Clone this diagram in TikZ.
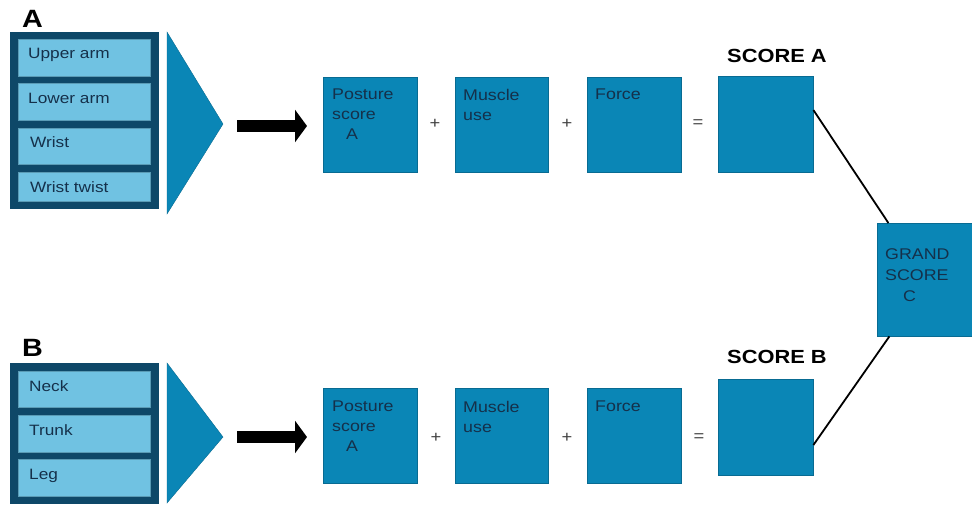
\documentclass[tikz,border=0pt]{standalone}
\usepackage{fontspec}
\setmainfont{Liberation Sans}[FakeStretch=1.15]
\usetikzlibrary{arrows.meta}
\definecolor{boxblue}{HTML}{0A86B6}
\definecolor{darknavy}{HTML}{0E4868}
\definecolor{lightblue}{HTML}{70C2E2}
\definecolor{txtnavy}{HTML}{15304A}
\begin{document}
\begin{tikzpicture}[x=1pt,y=-1pt,
  sq/.style={fill=boxblue, draw=boxblue!80!black, line width=0.4pt},
  outer/.style={fill=darknavy, draw=darknavy},
  inner/.style={fill=lightblue, draw=lightblue!80!black, line width=0.3pt},
  tri/.style={fill=boxblue, draw=boxblue!80!black, line width=0.4pt},
  lbl/.style={anchor=base west, inner sep=0pt, font=\fontsize{15}{18}\selectfont, text=txtnavy},
  boxtxt/.style={anchor=north west, inner sep=0pt, align=left, font=\fontsize{15.5}{20}\selectfont, text=txtnavy},
  big/.style={anchor=base west, inner sep=0pt, font=\fontsize{25}{28}\selectfont\bfseries},
  score/.style={anchor=base, inner sep=0pt, font=\fontsize{19}{22}\selectfont\bfseries},
  op/.style={inner sep=0pt, font=\fontsize{16}{18}\selectfont, text=black!75},
  bigarrow/.style={line width=12.5pt, -{Triangle[length=12pt,width=32pt]}},
  link/.style={line width=1.8pt, black}]
\useasboundingbox (0,0) rectangle (972,504);

% ---- Panel A ----
\node[big] (labA) at (22,27) {A};
\path[outer] (10,32) rectangle (158,208);
\path[inner] (18,39) rectangle (150,76);
\path[inner] (18,83) rectangle (150,120);
\path[inner] (18,128) rectangle (150,164);
\path[inner] (18,172) rectangle (150,201);
\node[lbl] (ua) at (28,58) {Upper arm};
\node[lbl] (la) at (28,103) {Lower arm};
\node[lbl] (wr) at (30,147) {Wrist};
\node[lbl] (wt) at (30,192) {Wrist twist};
\path[tri] (167,32) -- (223,124) -- (167,214) -- cycle;

% ---- Panel B ----
\node[big] (labB) at (22,356) {B};
\path[outer] (10,363) rectangle (158,503);
\path[inner] (18,371) rectangle (150,407);
\path[inner] (18,415) rectangle (150,452);
\path[inner] (18,459) rectangle (150,496);
\node[lbl] (nk) at (29,391) {Neck};
\node[lbl] (tr) at (29,435) {Trunk};
\node[lbl] (lg) at (29,479) {Leg};
\path[tri] (167,363) -- (223,437) -- (167,503) -- cycle;

% ---- Arrows ----
\coordinate (aA1) at (237,126);
\coordinate (aA2) at (307,126);
\coordinate (aB1) at (237,437);
\coordinate (aB2) at (307,437);
\draw[bigarrow] (aA1) -- (aA2);
\draw[bigarrow] (aB1) -- (aB2);

% ---- Row A ----
\node[sq, anchor=north west, minimum width=94pt, minimum height=95pt, inner sep=0pt] (pA) at (323,77) {};
\node[sq, anchor=north west, minimum width=93pt, minimum height=95pt, inner sep=0pt] (mA) at (455,77) {};
\node[sq, anchor=north west, minimum width=94pt, minimum height=95pt, inner sep=0pt] (fA) at (587,77) {};
\node[sq, anchor=north west, minimum width=95pt, minimum height=96pt, inner sep=0pt] (sA) at (718,76) {};
\node[boxtxt] (pAt) at (332,89) {Posture\\score\\\hspace*{14pt}A};
\node[boxtxt] (mAt) at (463,89) {Muscle\\use};
\node[boxtxt] (fAt) at (595,89) {Force};
\node[op] (p1A) at (435,124) {+};
\node[op] (p2A) at (567,124) {+};
\node[op] (eqA) at (698,124) {=};
\node[score] (scA) at (777,62) {SCORE A};

% ---- Row B ----
\node[sq, anchor=north west, minimum width=94pt, minimum height=95pt, inner sep=0pt] (pB) at (323,388) {};
\node[sq, anchor=north west, minimum width=93pt, minimum height=95pt, inner sep=0pt] (mB) at (455,388) {};
\node[sq, anchor=north west, minimum width=94pt, minimum height=95pt, inner sep=0pt] (fB) at (587,388) {};
\node[sq, anchor=north west, minimum width=95pt, minimum height=96pt, inner sep=0pt] (sB) at (718,379) {};
\node[boxtxt] (pBt) at (332,401) {Posture\\score\\\hspace*{14pt}A};
\node[boxtxt] (mBt) at (463,401) {Muscle\\use};
\node[boxtxt] (fBt) at (595,401) {Force};
\node[op] (p1B) at (436,438) {+};
\node[op] (p2B) at (567,438) {+};
\node[op] (eqB) at (699,438) {=};
\node[score] (scB) at (777,363) {SCORE B};

% ---- Grand score ----
\node[sq, anchor=north west, minimum width=95pt, minimum height=113pt, inner sep=0pt] (gC) at (877,223) {};
\node[boxtxt, font=\fontsize{15.5}{21}\selectfont] (gCt) at (885,248) {GRAND\\SCORE\\\hspace*{18pt}C};

% ---- Links ----
\draw[link] ([yshift=-34pt]sA.north east) -- ([xshift=-84pt]gC.north east);
\draw[link] ([yshift=-66pt]sB.north east) -- ([xshift=-83pt]gC.south east);
\end{tikzpicture}
\end{document}
